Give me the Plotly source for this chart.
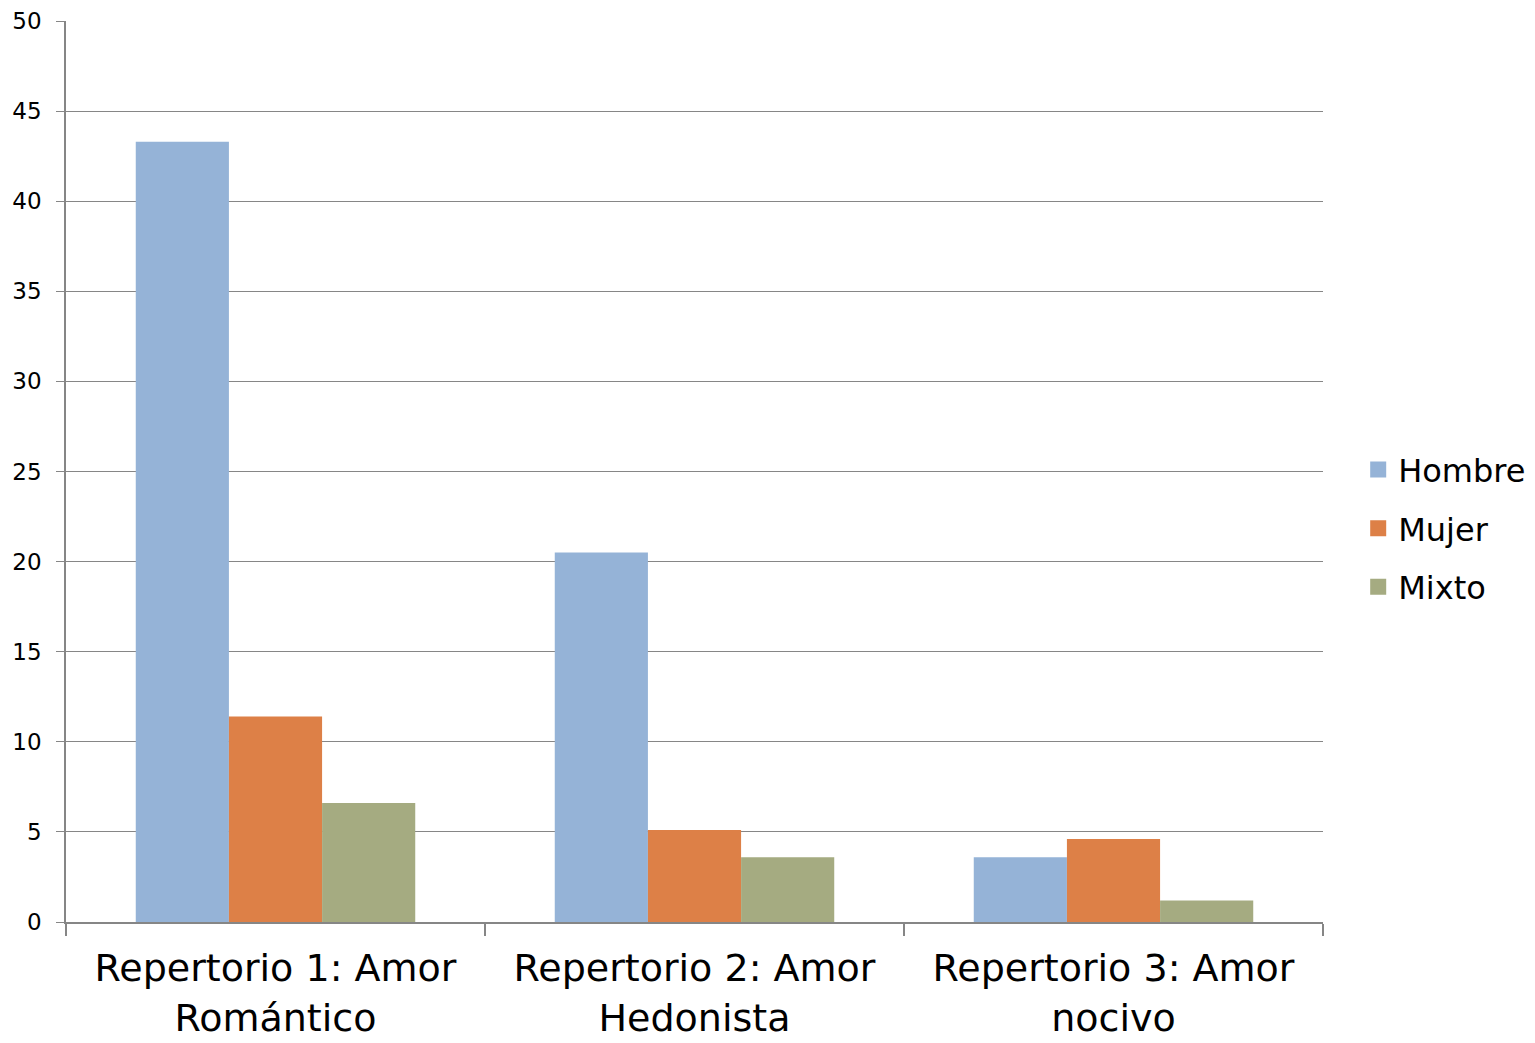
import plotly.graph_objects as go

categories = ["Repertorio 1: Amor<br>Romántico", "Repertorio 2: Amor<br>Hedonista", "Repertorio 3: Amor<br>nocivo"]
series_names = ["Hombre", "Mujer", "Mixto"]
hombre = [43.3, 20.5, 3.6]
mujer = [11.4, 5.1, 4.6]
mixto = [6.6, 3.6, 1.2]
y_ticks = [0, 5, 10, 15, 20, 25, 30, 35, 40, 45, 50]
colors = ["#95B3D7", "#DD8047", "#A5AB81"]

FONT = "DejaVu Sans"

fig = go.Figure()
for name, vals, col in zip(series_names, [hombre, mujer, mixto], colors):
    fig.add_trace(go.Bar(name=name, x=categories, y=vals, showlegend=False,
                         marker=dict(color=col, line=dict(width=0))))
# legend proxies (larger square swatches)
for name, col in zip(series_names, colors):
    fig.add_trace(go.Scatter(name=name, x=[None], y=[None], mode="markers", legendgroup=name,
                             marker=dict(symbol="square", size=20, color=col), showlegend=True,
                             hoverinfo="skip"))

fig.update_layout(
    width=1535, height=1043,
    margin=dict(l=58, r=218, t=13, b=129),
    paper_bgcolor="white", plot_bgcolor="white",
    barmode="group", bargap=0.333, bargroupgap=0,
    font=dict(family=FONT, color="black"),
    legend=dict(x=1.028, y=0.437, xanchor="left", yanchor="middle",
                font=dict(size=32, family=FONT), itemsizing="trace",
                tracegroupgap=14, itemwidth=30),
    showlegend=True,
)
fig.update_xaxes(
    type="category", showgrid=False, showline=True, linecolor="#868686", linewidth=1.5,
    ticks="outside", tickson="boundaries", ticklen=12, tickcolor="#868686", tickwidth=1.5,
    tickfont=dict(size=38, family=FONT), automargin=False, ticklabelstandoff=12,
)
fig.update_yaxes(
    range=[0, 50], tickvals=y_ticks, showgrid=True, gridcolor="#868686", gridwidth=1.2,
    showline=True, linecolor="#868686", linewidth=1.5, ticks="outside", ticklen=8,
    tickcolor="#868686", tickfont=dict(size=23, family=FONT), zeroline=False,
    automargin=False, ticklabelstandoff=10,
)

fig.write_html("out.html")
